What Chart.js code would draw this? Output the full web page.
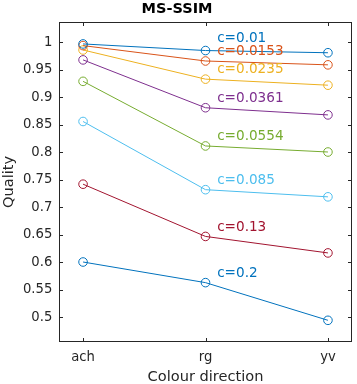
<!DOCTYPE html>
<html>
<head>
<meta charset="utf-8">
<script src="https://cdn.jsdelivr.net/npm/chart.js@4/dist/chart.umd.min.js"></script>
<style>
html,body{margin:0;padding:0;background:#fff;}
#wrap{width:357px;height:384px;}
</style>
</head>
<body>
<div id="wrap"><canvas id="c" width="357" height="384"></canvas></div>
<script>
const categories = ['ach', 'rg', 'yv'];
const seriesNames = ['c=0.01', 'c=0.0153', 'c=0.0235', 'c=0.0361', 'c=0.0554', 'c=0.085', 'c=0.13', 'c=0.2'];
const s001   = [0.997, 0.985, 0.981];
const s0153  = [0.994, 0.966, 0.959];
const s0235  = [0.986, 0.933, 0.922];
const s0361  = [0.968, 0.881, 0.868];
const s0554  = [0.929, 0.8115, 0.8005];
const s085   = [0.856, 0.732, 0.719];
const s013   = [0.742, 0.647, 0.617];
const s02    = [0.6005, 0.563, 0.4945];
const allSeries = [s001, s0153, s0235, s0361, s0554, s085, s013, s02];
const seriesColors = ['#0072BD', '#D95319', '#EDB120', '#7E2F8E', '#77AC30', '#4DBEEE', '#A2142F', '#0072BD'];
const yTicks = [0.5, 0.55, 0.6, 0.65, 0.7, 0.75, 0.8, 0.85, 0.9, 0.95, 1];
const labelAnchorX = 1.095;
const labelAnchorY = [1.0087, 0.986, 0.953, 0.9005, 0.831, 0.7515, 0.6664, 0.5818];

const FONT = "'DejaVu Sans', sans-serif";
const AX = '#262626';

const datasets = allSeries.map((vals, i) => ({
  label: seriesNames[i],
  data: vals.map((v, j) => ({x: j, y: v})),
  borderColor: seriesColors[i],
  backgroundColor: 'rgba(0,0,0,0)',
  pointBackgroundColor: 'rgba(0,0,0,0)',
  pointBorderColor: seriesColors[i],
  pointRadius: 4.3,
  pointBorderWidth: 1,
  borderWidth: 1,
  showLine: true,
  tension: 0
}));

const boxPlugin = {
  id: 'box',
  afterDraw(chart) {
    const ctx = chart.ctx, a = chart.chartArea;
    const xs = chart.scales.x, ys = chart.scales.y;
    ctx.save();
    ctx.strokeStyle = AX;
    ctx.lineWidth = 1;
    const L = Math.round(a.left) + 0.5, R = Math.round(a.right) - 0.5;
    const T = Math.round(a.top) + 0.5, B = Math.round(a.bottom) - 0.5;
    ctx.strokeRect(L, T, R - L, B - T);
    const tl = 3.5;
    ctx.beginPath();
    ys.ticks.forEach(t => {
      const y = Math.round(ys.getPixelForValue(t.value)) + 0.5;
      ctx.moveTo(L, y); ctx.lineTo(L + tl, y);
      ctx.moveTo(R, y); ctx.lineTo(R - tl, y);
    });
    xs.ticks.forEach(t => {
      const x = Math.round(xs.getPixelForValue(t.value)) + 0.5;
      ctx.moveTo(x, B); ctx.lineTo(x, B - tl);
      ctx.moveTo(x, T); ctx.lineTo(x, T + tl);
    });
    ctx.stroke();
    ctx.restore();
  }
};

const labelPlugin = {
  id: 'seriesLabels',
  afterDatasetsDraw(chart) {
    const ctx = chart.ctx;
    const xs = chart.scales.x, ys = chart.scales.y;
    const fs = 13.6;
    ctx.save();
    ctx.font = fs + 'px ' + FONT;
    ctx.textAlign = 'left';
    ctx.textBaseline = 'alphabetic';
    seriesNames.forEach((name, i) => {
      ctx.fillStyle = seriesColors[i];
      const x = xs.getPixelForValue(labelAnchorX);
      const y = ys.getPixelForValue(labelAnchorY[i]) + 0.36 * fs;
      ctx.fillText(name, x, y);
    });
    ctx.restore();
  }
};

new Chart(document.getElementById('c'), {
  type: 'scatter',
  data: { datasets },
  options: {
    responsive: false,
    animation: false,
    events: [],
    layout: { padding: { left: 0, right: 3, top: 0, bottom: 0 } },
    plugins: {
      legend: { display: false },
      tooltip: { enabled: false },
      title: {
        display: true,
        text: 'MS-SSIM',
        color: '#000',
        font: { family: FONT, size: 14.5, weight: 'bold', lineHeight: 1.2 },
        padding: { top: 1, bottom: 3.6 }
      }
    },
    scales: {
      x: {
        type: 'linear',
        min: -0.194,
        max: 2.194,
        grid: { display: false, drawTicks: false },
        border: { display: false },
        afterBuildTicks(scale) { scale.ticks = categories.map((c, i) => ({ value: i })); },
        afterFit(scale) { scale.height = 42.3; },
        ticks: {
          padding: 8,
          color: AX,
          font: { family: FONT, size: 13.2 },
          callback: (v) => categories[v] !== undefined ? categories[v] : ''
        },
        title: {
          display: true,
          text: 'Colour direction',
          color: AX,
          font: { family: FONT, size: 14.6 },
          padding: { top: 0, bottom: -1.5 }
        }
      },
      y: {
        type: 'linear',
        min: 0.4556,
        max: 1.0369,
        grid: { display: false, drawTicks: false },
        border: { display: false },
        afterBuildTicks(scale) { scale.ticks = yTicks.map(v => ({ value: v })); },
        afterFit(scale) { scale.width = 59.3; },
        ticks: {
          padding: 7,
          color: AX,
          font: { family: FONT, size: 13.2 },
          callback: (v) => String(Number(v.toFixed(2)))
        },
        title: {
          display: true,
          text: 'Quality',
          color: AX,
          font: { family: FONT, size: 14.6 },
          padding: { top: 0, bottom: 0 }
        }
      }
    }
  },
  plugins: [labelPlugin, boxPlugin]
});
</script>
</body>
</html>
